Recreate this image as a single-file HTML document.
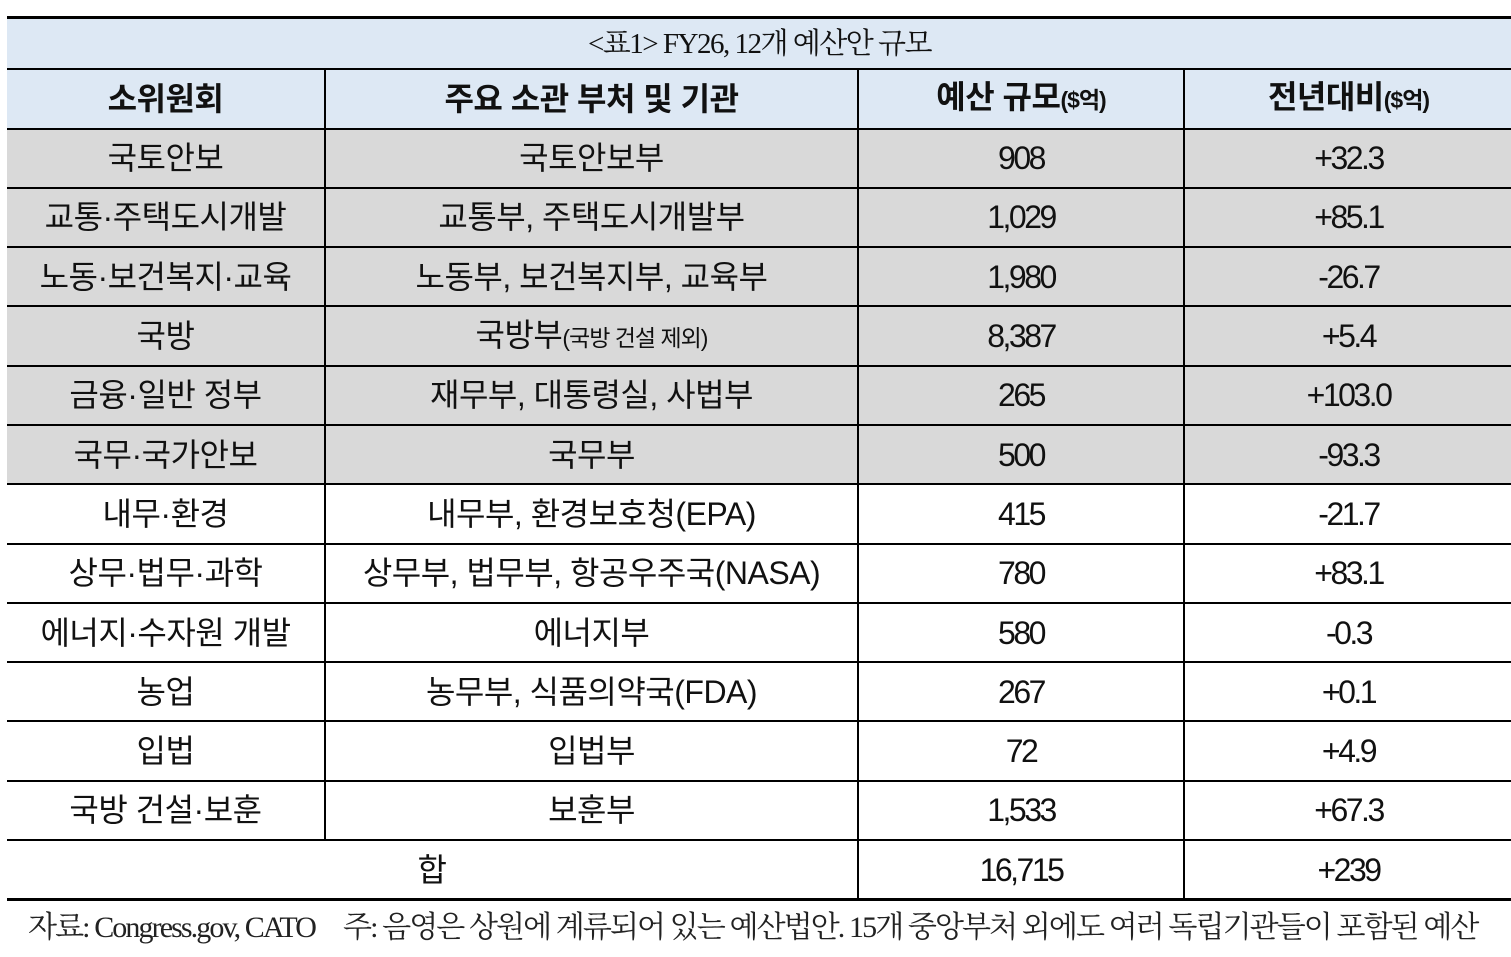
<!DOCTYPE html>
<html><head><meta charset="utf-8"><style>
body{margin:0;width:1511px;height:957px;background:#fff;overflow:hidden;position:relative;font-family:"Liberation Sans","Noto Sans CJK KR",sans-serif;}
table{position:absolute;left:7px;top:16px;border-collapse:collapse;table-layout:fixed;width:1505px;}
td{border:2px solid #000;text-align:center;vertical-align:middle;padding:0;font-size:32px;line-height:36px;color:#111;letter-spacing:-0.5px;}
td.n{letter-spacing:-2.5px;font-size:32px;}
tr.t td{height:49px;background:#dde8f4;font-family:"Liberation Serif","Noto Serif CJK SC",serif;font-size:29px;border-left:none;border-right:none;letter-spacing:-1.5px;border-top:3px solid #000;}
tr.h td{height:57.5px;background:#dde8f4;font-weight:bold;font-size:32px;}
tr.r td{height:57.3px;}
tr.g td{background:#d9d9d9;}
td:first-child{border-left:none;}td:last-child{border-right:none;}
tr.last td{border-bottom:3px solid #000;}
small{font-size:23px;letter-spacing:-1px;}
.f{position:absolute;top:902px;left:28px;font-family:"Liberation Serif","Noto Serif CJK SC",serif;font-size:30px;letter-spacing:-1.9px;color:#222;white-space:nowrap;}
</style></head><body>
<table>
<colgroup><col style="width:318px"><col style="width:533px"><col style="width:326px"><col style="width:328px"></colgroup>
<tr class="t"><td colspan="4">&lt;표1&gt; FY26, 12개 예산안 규모</td></tr>
<tr class="h"><td>소위원회</td><td>주요 소관 부처 및 기관</td><td>예산 규모<small>($억)</small></td><td>전년대비<small>($억)</small></td></tr>
<tr class="r g"><td>국토안보</td><td>국토안보부</td><td class="n">908</td><td class="n">+32.3</td></tr>
<tr class="r g"><td>교통·주택도시개발</td><td>교통부, 주택도시개발부</td><td class="n">1,029</td><td class="n">+85.1</td></tr>
<tr class="r g"><td>노동·보건복지·교육</td><td>노동부, 보건복지부, 교육부</td><td class="n">1,980</td><td class="n">-26.7</td></tr>
<tr class="r g"><td>국방</td><td>국방부<small>(국방 건설 제외)</small></td><td class="n">8,387</td><td class="n">+5.4</td></tr>
<tr class="r g"><td>금융·일반 정부</td><td>재무부, 대통령실, 사법부</td><td class="n">265</td><td class="n">+103.0</td></tr>
<tr class="r g"><td>국무·국가안보</td><td>국무부</td><td class="n">500</td><td class="n">-93.3</td></tr>
<tr class="r"><td>내무·환경</td><td>내무부, 환경보호청(EPA)</td><td class="n">415</td><td class="n">-21.7</td></tr>
<tr class="r"><td>상무·법무·과학</td><td>상무부, 법무부, 항공우주국(NASA)</td><td class="n">780</td><td class="n">+83.1</td></tr>
<tr class="r"><td>에너지·수자원 개발</td><td>에너지부</td><td class="n">580</td><td class="n">-0.3</td></tr>
<tr class="r"><td>농업</td><td>농무부, 식품의약국(FDA)</td><td class="n">267</td><td class="n">+0.1</td></tr>
<tr class="r"><td>입법</td><td>입법부</td><td class="n">72</td><td class="n">+4.9</td></tr>
<tr class="r"><td>국방 건설·보훈</td><td>보훈부</td><td class="n">1,533</td><td class="n">+67.3</td></tr>
<tr class="r last"><td colspan="2">합</td><td class="n">16,715</td><td class="n">+239</td></tr>
</table>
<div class="f">자료: Congress.gov, CATO &nbsp;&nbsp;&nbsp;&nbsp;주: 음영은 상원에 계류되어 있는 예산법안. 15개 중앙부처 외에도 여러 독립기관들이 포함된 예산</div>
</body></html>
